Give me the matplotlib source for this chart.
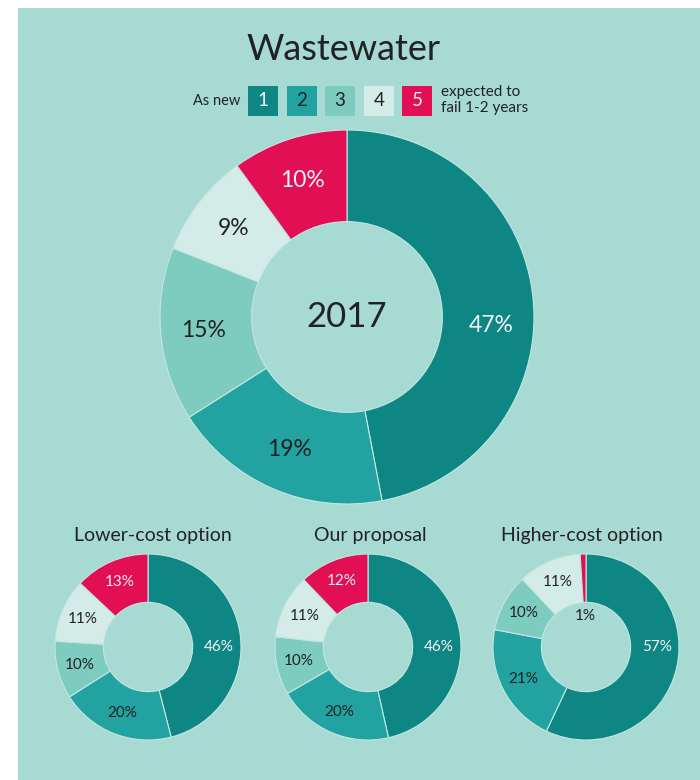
import numpy as np
import matplotlib
matplotlib.use("Agg")
import matplotlib.pyplot as plt
from matplotlib.patches import Rectangle

plt.rcParams['font.family'] = ['Lato', 'DejaVu Sans']

W, H = 700, 780
BG = '#a6dad3'
DARK = '#222222'
LIGHT = '#f4f4f4'

# condition grades 1 (as new) .. 5 (expected to fail in 1-2 years)
grades = ['1', '2', '3', '4', '5']
grade_colors = ['#0e8784', '#22a3a2', '#7ecbbf', '#d3ece7', '#e20f55']
grade_text = [LIGHT, DARK, DARK, DARK, LIGHT]

current_year = '2017'
current = [47, 19, 15, 9, 10]

option_names = ['Lower-cost option', 'Our proposal', 'Higher-cost option']
lower_cost = [46, 20, 10, 11, 13]
our_proposal = [46, 20, 10, 11, 12]
higher_cost = [57, 21, 10, 11, 1]
options = [lower_cost, our_proposal, higher_cost]


def px_axes(fig, cx, cy, r):
    # square axes centred at pixel (cx, cy) measured from the top-left
    return fig.add_axes([(cx - r) / W, (H - cy - r) / H, 2 * r / W, 2 * r / H])


def donut(ax, values, width, fontsize, label_r, big_angle):
    wedges, _ = ax.pie(values, colors=grade_colors, startangle=90, counterclock=False,
                       radius=1, wedgeprops=dict(width=width, edgecolor='#c4e6e1', linewidth=0.8))
    for w, v, tc in zip(wedges, values, grade_text):
        mid = (w.theta1 + w.theta2) / 2
        r, col = label_r, tc
        if v >= 40:
            # the big grade-1 wedge gets its label on the right, level with the centre
            mid = big_angle
        elif v < 3:
            # too thin to hold text: put it just inside the hole
            r, col = 0.33, DARK
        mid = np.deg2rad(mid)
        ax.text(r * np.cos(mid), r * np.sin(mid), f'{v}%', ha='center', va='center',
                fontsize=fontsize, color=col)
    ax.set_xlim(-1, 1)
    ax.set_ylim(-1, 1)
    ax.set_aspect('equal')
    ax.axis('off')


fig = plt.figure(figsize=(W / 100, H / 100), dpi=100, facecolor='white')

# overlay in pixel coordinates for background, titles and legend
bg = fig.add_axes([0, 0, 1, 1])
bg.set_xlim(0, W)
bg.set_ylim(H, 0)
bg.axis('off')
bg.add_patch(Rectangle((18, 8), W - 18, H - 8, facecolor=BG, edgecolor='none'))

bg.text(343, 50, 'Wastewater', ha='center', va='center', fontsize=26, color=DARK)

bg.text(240, 101, 'As new', ha='right', va='center', fontsize=10.5, color=DARK)
box_x = [248, 287, 325, 364, 402]
for x, g, c, tc in zip(box_x, grades, grade_colors, grade_text):
    bg.add_patch(Rectangle((x, 86), 30, 30, facecolor=c, edgecolor='none'))
    bg.text(x + 15, 101, g, ha='center', va='center', fontsize=13.5, color=tc)
bg.text(441, 100, 'expected to\nfail 1-2 years', ha='left', va='center',
        fontsize=11, color=DARK, linespacing=1.15)

# main donut for the current year
ax = px_axes(fig, 347, 317, 187)
donut(ax, current, 0.49, 16.5, 0.77, -3.5)
ax.text(0, 0, current_year, ha='center', va='center', fontsize=25, color=DARK)

# smaller donuts for each investment option
centers = [148, 368, 586]
title_x = [153, 370, 582]
for cx, tx, name, vals in zip(centers, title_x, option_names, options):
    bg.text(tx, 535, name, ha='center', va='center', fontsize=14, color=DARK)
    a = px_axes(fig, cx, 647, 93)
    donut(a, vals, 0.52, 11, 0.76, 0)

fig.savefig('out.png', dpi=100, facecolor=fig.get_facecolor())
